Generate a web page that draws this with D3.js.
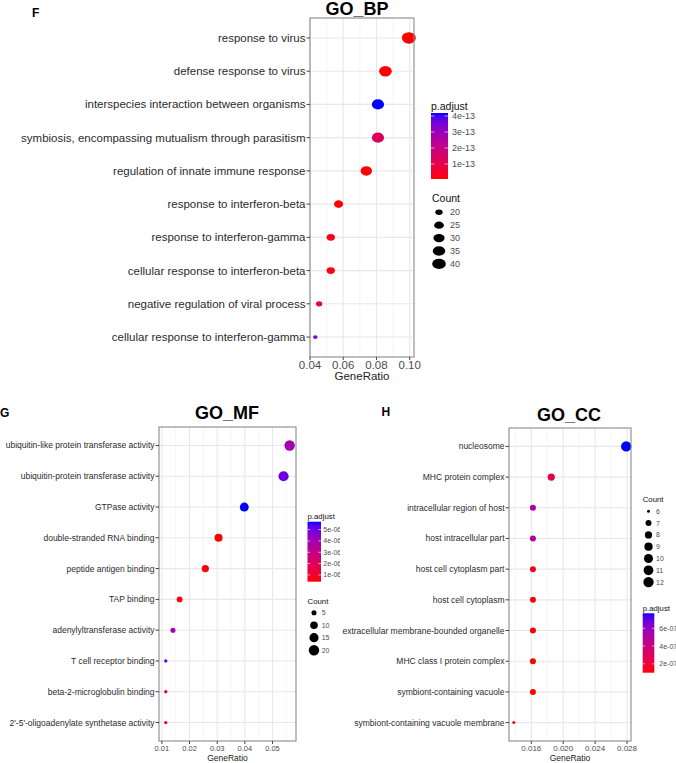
<!DOCTYPE html>
<html><head><meta charset="utf-8">
<script src="https://cdn.jsdelivr.net/npm/d3@7"></script>
<style>
body{margin:0;background:#fff}
svg{display:block;font-family:"Liberation Sans",Arial,Helvetica,sans-serif}
</style>
</head><body>
<svg id="c" width="676" height="763"></svg>
<script>
// ---------- DATA ----------
// GO_BP
const bpTerms = ["response to virus","defense response to virus","interspecies interaction between organisms","symbiosis, encompassing mutualism through parasitism","regulation of innate immune response","response to interferon-beta","response to interferon-gamma","cellular response to interferon-beta","negative regulation of viral process","cellular response to interferon-gamma"];
const bpRatio = [0.0995,0.0854,0.0809,0.0809,0.0739,0.0572,0.0525,0.0525,0.0455,0.0432];
const bpCount = [42,36,34,34,31,24,22,22,19,18];
const bpPadj  = [0.06,0.09,4.19,1.3,0.12,0.1,0.3,0.2,1.1,3.3]; // x 1e-13
const bpXTicks = [0.04,0.06,0.08,0.10];
const bpColorTicks = [1,2,3,4];
const bpColorLabels = ["1e-13","2e-13","3e-13","4e-13"];
const bpSizeTicks = [20,25,30,35,40];

// GO_MF
const mfTerms = ["ubiquitin-like protein transferase activity","ubiquitin-protein transferase activity","GTPase activity","double-stranded RNA binding","peptide antigen binding","TAP binding","adenylyltransferase activity","T cell receptor binding","beta-2-microglobulin binding","2'-5'-oligoadenylate synthetase activity"];
const mfRatio = [0.0562,0.0540,0.0398,0.0305,0.0257,0.0164,0.0140,0.0114,0.0114,0.0114];
const mfCount = [20,19,14,11,9,6,5,4,4,4];
const mfPadj  = [4.0,5.0,5.7,0.4,0.45,0.6,3.9,5.1,1.9,1.2]; // x 1e-06
const mfXTicks = [0.01,0.02,0.03,0.04,0.05];
const mfColorTicks = [1,2,3,4,5];
const mfColorLabels = ["1e-06","2e-06","3e-06","4e-06","5e-06"];
const mfSizeTicks = [5,10,15,20];

// GO_CC
const ccTerms = ["nucleosome","MHC protein complex","intracellular region of host","host intracellular part","host cell cytoplasm part","host cell cytoplasm","extracellular membrane-bounded organelle","MHC class I protein complex","symbiont-containing vacuole","symbiont-containing vacuole membrane"];
const ccRatio = [0.0279,0.0185,0.0162,0.0162,0.0162,0.0162,0.0162,0.0162,0.0162,0.0138];
const ccCount = [12,8,7,7,7,7,7,7,7,6];
const ccPadj  = [7.7,2.6,5.0,5.0,1.4,1.1,1.05,1.0,1.0,1.3]; // x 1e-07
const ccXTicks = [0.016,0.020,0.024,0.028];
const ccColorTicks = [2,4,6];
const ccColorLabels = ["2e-07","4e-07","6e-07"];
const ccSizeTicks = [6,7,8,9,10,11,12];

// ---------- DRAW ----------
const svg = d3.select("#c");
const defs = svg.append("defs");

function drawPanel(o){
  const g = svg.append("g");
  if (o.clip){
    defs.append("clipPath").attr("id", o.id+"clip").append("rect")
      .attr("x",o.clip[0]).attr("y",o.clip[1]).attr("width",o.clip[2]).attr("height",o.clip[3]);
    g.attr("clip-path","url(#"+o.id+"clip)");
  }
  const x = d3.scaleLinear().domain(o.xDomain).range([o.x0,o.x1]);
  const y = d3.scalePoint().domain(o.terms).range([o.y0,o.y1]).padding(0.6);
  const cExt = d3.extent(o.padj);
  const color = d3.scaleLinear().domain(cExt).range(["red","blue"]).interpolate(d3.interpolateLab);
  const nExt = d3.extent(o.count);
  const rLin = d3.scaleLinear().domain([0,1]).range(o.rRange);
  const rad = c => rLin(Math.sqrt(Math.max(0,(c-nExt[0])/(nExt[1]-nExt[0]))));

  // minor grid
  const step = o.xTicks[1]-o.xTicks[0];
  const ext = [o.xTicks[0]-step, ...o.xTicks, o.xTicks[o.xTicks.length-1]+step];
  const minor = [];
  for (let i=0;i<ext.length-1;i++){
    const m=(ext[i]+ext[i+1])/2;
    if (m>=o.xDomain[0] && m<=o.xDomain[1]) minor.push(m);
  }
  g.selectAll(null).data(minor).enter().append("line")
    .attr("x1",d=>x(d)).attr("x2",d=>x(d)).attr("y1",o.y0).attr("y2",o.y1)
    .attr("stroke","#f1f1f1").attr("stroke-width",0.7);
  // major grid
  g.selectAll(null).data(o.xTicks).enter().append("line")
    .attr("x1",d=>x(d)).attr("x2",d=>x(d)).attr("y1",o.y0).attr("y2",o.y1)
    .attr("stroke","#e8e8e8").attr("stroke-width",1.1);
  g.selectAll(null).data(o.terms).enter().append("line")
    .attr("x1",o.x0).attr("x2",o.x1).attr("y1",d=>y(d)).attr("y2",d=>y(d))
    .attr("stroke","#e8e8e8").attr("stroke-width",1.1);

  // points
  const idx = d3.range(o.terms.length);
  g.selectAll(null).data(idx).enter().append("ellipse")
    .attr("cx",i=>x(o.ratio[i])).attr("cy",i=>y(o.terms[i]))
    .attr("rx",i=>rad(o.count[i])*o.aspect).attr("ry",i=>rad(o.count[i]))
    .attr("fill",i=>color(o.padj[i]));

  // border
  g.append("rect").attr("x",o.x0).attr("y",o.y0).attr("width",o.x1-o.x0).attr("height",o.y1-o.y0)
    .attr("fill","none").attr("stroke","#8a8a8a").attr("stroke-width",1.1);

  // y axis ticks + labels
  g.selectAll(null).data(o.terms).enter().append("line")
    .attr("x1",o.x0-3.5).attr("x2",o.x0).attr("y1",d=>y(d)).attr("y2",d=>y(d))
    .attr("stroke","#444").attr("stroke-width",1);
  g.selectAll(null).data(o.terms).enter().append("text")
    .attr("x",o.x0-4.5).attr("y",d=>y(d)).attr("dy","0.35em")
    .attr("text-anchor","end").attr("font-size",o.yFont).attr("fill","#2b2b2b")
    .text(d=>d);

  // x axis
  g.selectAll(null).data(o.xTicks).enter().append("line")
    .attr("x1",d=>x(d)).attr("x2",d=>x(d)).attr("y1",o.y1).attr("y2",o.y1+3)
    .attr("stroke","#444").attr("stroke-width",1);
  g.selectAll(null).data(o.xTicks).enter().append("text")
    .attr("x",d=>x(d)).attr("y",o.xLabY).attr("text-anchor","middle")
    .attr("font-size",o.xFont).attr("fill","#4d4d4d").text(d=>d3.format(o.xFmt)(d));
  g.append("text").attr("x",(o.x0+o.x1)/2).attr("y",o.xTitleY).attr("text-anchor","middle")
    .attr("font-size",o.xTitleFont).attr("fill","#222").text("GeneRatio");

  // title
  g.append("text").attr("x",o.titleX).attr("y",o.titleY).attr("text-anchor","middle")
    .attr("font-size",18).attr("font-weight","bold").attr("fill","#000").text(o.title);
  g.append("text").attr("x",o.letterX).attr("y",o.letterY)
    .attr("font-size",12).attr("font-weight","bold").attr("fill","#000").text(o.letter);

  // color legend
  const cl = o.cLeg;
  const grad = defs.append("linearGradient").attr("id",o.id+"grad")
    .attr("x1",0).attr("y1",1).attr("x2",0).attr("y2",0);
  d3.range(0,1.0001,0.05).forEach(t=>{
    grad.append("stop").attr("offset",t).attr("stop-color",color(cExt[0]+t*(cExt[1]-cExt[0])));
  });
  g.append("text").attr("x",cl.x).attr("y",cl.titleY).attr("font-size",cl.titleFont).attr("fill","#111").text("p.adjust");
  g.append("rect").attr("x",cl.x).attr("y",cl.top).attr("width",cl.w).attr("height",cl.bottom-cl.top)
    .attr("fill","url(#"+o.id+"grad)");
  const cy = d3.scaleLinear().domain(cExt).range([cl.bottom,cl.top]);
  o.cTicks.forEach((v,i)=>{
    g.append("line").attr("x1",cl.x).attr("x2",cl.x+cl.w*0.2).attr("y1",cy(v)).attr("y2",cy(v))
      .attr("stroke","#fff").attr("stroke-opacity",0.6);
    g.append("line").attr("x1",cl.x+cl.w*0.8).attr("x2",cl.x+cl.w).attr("y1",cy(v)).attr("y2",cy(v))
      .attr("stroke","#fff").attr("stroke-opacity",0.6);
    g.append("text").attr("x",cl.labX).attr("y",cy(v)).attr("dy","0.35em")
      .attr("font-size",cl.labFont).attr("fill","#4d4d4d").text(o.cLabels[i]);
  });

  // size legend
  const sl = o.sLeg;
  g.append("text").attr("x",sl.x).attr("y",sl.titleY).attr("font-size",sl.titleFont).attr("fill","#111").text("Count");
  o.sTicks.forEach((v,i)=>{
    const yy = sl.first + i*sl.step;
    g.append("ellipse").attr("cx",sl.dotX).attr("cy",yy)
      .attr("rx",rad(v)*sl.aspect*sl.scale).attr("ry",rad(v)*sl.scale).attr("fill","#000");
    g.append("text").attr("x",sl.labX).attr("y",yy).attr("dy","0.35em")
      .attr("font-size",sl.labFont).attr("fill","#4d4d4d").text(v);
  });
}

drawPanel({
  id:"bp", terms:bpTerms, ratio:bpRatio, count:bpCount, padj:bpPadj,
  xDomain:[0.04,0.1026], x0:310, x1:414, y0:18, y1:357,
  xTicks:bpXTicks, xFmt:".2f", rRange:[1.85,5.8], aspect:1.2,
  yFont:11.5, xFont:11.5, xLabY:368.5, xTitleFont:11.5, xTitleY:379.5,
  title:"GO_BP", titleX:357, titleY:15, letter:"F", letterX:32, letterY:17,
  cTicks:bpColorTicks, cLabels:bpColorLabels,
  cLeg:{x:431, w:17, top:113, bottom:179, titleY:110, titleFont:10.5, labX:452, labFont:9},
  sTicks:bpSizeTicks,
  sLeg:{x:432, titleY:202, titleFont:10.5, dotX:439, first:212.3, step:12.9, labX:450, labFont:9, aspect:1.35, scale:0.9}
});

drawPanel({
  id:"mf", terms:mfTerms, ratio:mfRatio, count:mfCount, padj:mfPadj,
  xDomain:[0.00895,0.0585], x0:159, x1:296, y0:427, y1:741,
  xTicks:mfXTicks, xFmt:".2f", rRange:[1.65,5.2], aspect:1,
  yFont:8.5, xFont:7.5, xLabY:751, xTitleFont:8.5, xTitleY:760.5,
  title:"GO_MF", titleX:227, titleY:419, letter:"G", letterX:0, letterY:417,
  cTicks:mfColorTicks, cLabels:mfColorLabels,
  cLeg:{x:307.5, w:13.5, top:521.7, bottom:581.7, titleY:518.5, titleFont:7.8, labX:323.3, labFont:7},
  sTicks:mfSizeTicks,
  sLeg:{x:307.5, titleY:604, titleFont:7.8, dotX:314, first:612.7, step:12.5, labX:321.7, labFont:7, aspect:1, scale:1},
  clip:[0,395,340,368]
});

drawPanel({
  id:"cc", terms:ccTerms, ratio:ccRatio, count:ccCount, padj:ccPadj,
  xDomain:[0.0132,0.0285], x0:509, x1:631, y0:428, y1:741,
  xTicks:ccXTicks, xFmt:".3f", rRange:[1.5,5.2], aspect:1,
  yFont:8.5, xFont:8, xLabY:751, xTitleFont:8.5, xTitleY:760.5,
  title:"GO_CC", titleX:569, titleY:421, letter:"H", letterX:381.5, letterY:416,
  cTicks:ccColorTicks, cLabels:ccColorLabels,
  cLeg:{x:642.7, w:11.6, top:613.3, bottom:672.7, titleY:610.5, titleFont:7.8, labX:659.3, labFont:7},
  sTicks:ccSizeTicks,
  sLeg:{x:642.7, titleY:501.5, titleFont:7.8, dotX:648.5, first:511.3, step:11.8, labX:656, labFont:7, aspect:1, scale:1}
});
</script>
</body></html>
